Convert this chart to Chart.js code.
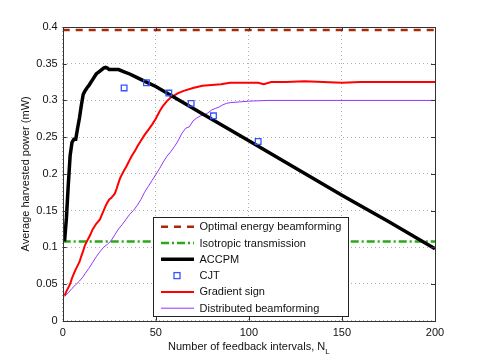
<!DOCTYPE html>
<html>
<head>
<meta charset="utf-8">
<script src="https://cdn.jsdelivr.net/npm/chart.js@4/dist/chart.umd.min.js"></script>
<style>
  body { margin: 0; background: #fff; }
  #wrap { position: relative; width: 480px; height: 361px; }
</style>
</head>
<body>
<div id="wrap"><canvas id="c" width="480" height="361"></canvas></div>
<script>
// values
const optimalLevel = 0.396;
const isotropicLevel = 0.108;

const accpmN = [1, 2, 3, 4, 5, 6, 7, 8, 9, 10, 11, 12, 13, 14, 15, 16, 18, 20, 22, 23, 24, 25, 27, 30, 33, 36, 40, 45, 50, 75, 100, 125, 150, 175, 200];
const accpmP = [0.108, 0.140, 0.185, 0.225, 0.243, 0.247, 0.247, 0.262, 0.276, 0.293, 0.308, 0.313, 0.317, 0.320, 0.324, 0.328, 0.336, 0.340, 0.344, 0.345, 0.344, 0.342, 0.342, 0.342, 0.339, 0.336, 0.331, 0.325, 0.319, 0.282, 0.245, 0.208, 0.171, 0.135, 0.098];

const cjtN = [33, 45, 57, 69, 81, 105];
const cjtP = [0.317, 0.324, 0.310, 0.296, 0.279, 0.244];

const gradN = [1, 2, 3, 4, 5, 6, 7, 8, 9, 10, 11, 12, 13, 14, 15, 16, 17, 18, 19, 20, 21, 22, 23, 24, 25, 26, 27, 28, 29, 30, 31, 32, 33, 34, 35, 36, 37, 38, 39, 40, 42, 44, 46, 48, 50, 52, 54, 56, 58, 60, 62, 65, 70, 75, 80, 85, 90, 100, 105, 108, 112, 120, 130, 140, 150, 160, 170, 180, 200];
const gradP = [0.034, 0.040, 0.045, 0.050, 0.058, 0.064, 0.070, 0.075, 0.080, 0.088, 0.095, 0.103, 0.108, 0.113, 0.118, 0.124, 0.128, 0.132, 0.135, 0.138, 0.144, 0.150, 0.156, 0.161, 0.165, 0.167, 0.170, 0.173, 0.180, 0.188, 0.195, 0.200, 0.205, 0.209, 0.214, 0.219, 0.224, 0.228, 0.232, 0.237, 0.245, 0.253, 0.260, 0.267, 0.275, 0.285, 0.293, 0.299, 0.304, 0.307, 0.310, 0.313, 0.317, 0.320, 0.321, 0.322, 0.324, 0.324, 0.324, 0.322, 0.325, 0.325, 0.326, 0.325, 0.324, 0.325, 0.325, 0.325, 0.325];

const distN = [1, 3, 5, 7, 9, 11, 12, 14, 16, 18, 20, 22, 24, 26, 28, 30, 32, 34, 36, 38, 40, 42, 44, 46, 48, 50, 52, 54, 56, 58, 60, 62, 64, 66, 68, 70, 72, 74, 76, 78, 80, 82, 84, 86, 88, 90, 95, 100, 110, 200];
const distP = [0.033, 0.038, 0.044, 0.049, 0.054, 0.060, 0.064, 0.071, 0.079, 0.087, 0.094, 0.100, 0.104, 0.109, 0.117, 0.125, 0.131, 0.138, 0.145, 0.150, 0.157, 0.165, 0.175, 0.183, 0.191, 0.199, 0.207, 0.216, 0.224, 0.230, 0.237, 0.245, 0.255, 0.262, 0.264, 0.272, 0.276, 0.279, 0.280, 0.283, 0.287, 0.289, 0.291, 0.294, 0.296, 0.297, 0.298, 0.299, 0.300, 0.300];

const xTicks = [0, 50, 100, 150, 200];
const yTicks = [0, 0.05, 0.1, 0.15, 0.2, 0.25, 0.3, 0.35, 0.4];

const FONT = '"Liberation Sans", Arial, sans-serif';

function pts(xs, ys) {
  return xs.map((x, i) => ({ x: x, y: ys[i] }));
}

const series = [
  { label: 'Optimal energy beamforming', data: pts([0, 200], [optimalLevel, optimalLevel]),
    borderColor: '#a8280a', borderWidth: 2.5, borderDash: [7, 6], showLine: true, pointRadius: 0 },
  { label: 'Isotropic transmission', data: pts([0, 200], [isotropicLevel, isotropicLevel]),
    borderColor: '#2aa818', borderWidth: 2.5, borderDash: [8, 3, 2, 3], showLine: true, pointRadius: 0 },
  { label: 'ACCPM', data: pts(accpmN, accpmP),
    borderColor: '#000', borderWidth: 3.5, showLine: true, pointRadius: 0 },
  { label: 'CJT', data: pts(cjtN, cjtP),
    borderColor: '#3355ff', backgroundColor: 'rgba(0,0,0,0)', borderWidth: 1.3,
    showLine: false, pointStyle: 'rect', pointRadius: 4 },
  { label: 'Gradient sign', data: pts(gradN, gradP),
    borderColor: '#ff0000', borderWidth: 2, showLine: true, pointRadius: 0 },
  { label: 'Distributed beamforming', data: pts(distN, distP),
    borderColor: '#9933ff', borderWidth: 1, showLine: true, pointRadius: 0 }
];
// draw order: keep ACCPM and CJT on top
series.forEach((s, i) => { s.order = [5, 4, 2, 1, 3, 3][i]; s.fill = false; s.tension = 0; });

// frame, inward ticks, legend and axis titles (MATLAB look)
const decor = {
  id: 'decor',
  afterDatasetsDraw(chart) {
    const ctx = chart.ctx;
    const a = chart.chartArea;
    const xs = chart.scales.x, ys = chart.scales.y;
    ctx.save();
    ctx.strokeStyle = '#333';
    ctx.lineWidth = 1;
    ctx.setLineDash([]);
    ctx.strokeRect(Math.round(a.left) + 0.5, Math.round(a.top) + 0.5,
      Math.round(a.right - a.left), Math.round(a.bottom - a.top));
    ctx.beginPath();
    xTicks.forEach(v => {
      const px = Math.round(xs.getPixelForValue(v)) + 0.5;
      ctx.moveTo(px, a.bottom); ctx.lineTo(px, a.bottom - 4);
      ctx.moveTo(px, a.top); ctx.lineTo(px, a.top + 4);
    });
    yTicks.forEach(v => {
      const py = Math.round(ys.getPixelForValue(v)) + 0.5;
      ctx.moveTo(a.left, py); ctx.lineTo(a.left + 4, py);
      ctx.moveTo(a.right, py); ctx.lineTo(a.right - 4, py);
    });
    ctx.stroke();

    // legend box
    const bx = 153.5, by = 217.5, bw = 195, bh = 99;
    ctx.fillStyle = '#fff';
    ctx.fillRect(bx, by, bw, bh);
    ctx.strokeStyle = '#222';
    ctx.strokeRect(bx, by, bw, bh);
    ctx.font = '11px ' + FONT;
    ctx.textBaseline = 'middle';
    ctx.textAlign = 'left';
    series.forEach((s, i) => {
      const y = 226.7 + i * 16.3;
      ctx.strokeStyle = s.borderColor;
      ctx.lineWidth = s.borderWidth;
      if (s.showLine) {
        ctx.setLineDash(s.borderDash || []);
        ctx.beginPath();
        ctx.moveTo(161, y); ctx.lineTo(194, y);
        ctx.stroke();
      } else {
        ctx.setLineDash([]);
        ctx.strokeRect(174, y - 3, 6, 6);
      }
      ctx.setLineDash([]);
      ctx.fillStyle = '#111';
      ctx.fillText(s.label, 199.5, y + 0.5);
    });

    // x title with subscript
    ctx.fillStyle = '#111';
    ctx.font = '11px ' + FONT;
    const main = 'Number of feedback intervals, N';
    const w = ctx.measureText(main).width;
    ctx.font = '8px ' + FONT;
    const ws = ctx.measureText('L').width;
    const x0 = (a.left + a.right) / 2 - (w + ws) / 2;
    ctx.font = '11px ' + FONT;
    ctx.fillText(main, x0, 346.5);
    ctx.font = '8px ' + FONT;
    ctx.fillText('L', x0 + w, 352);

    // y title
    ctx.font = '11px ' + FONT;
    ctx.translate(26, (a.top + a.bottom) / 2);
    ctx.rotate(-Math.PI / 2);
    ctx.textAlign = 'center';
    ctx.fillText('Average harvested power (mW)', 0, 0);
    ctx.restore();
  }
};

new Chart(document.getElementById('c'), {
  type: 'scatter',
  data: { datasets: series },
  options: {
    responsive: false,
    animation: false,
    layout: { padding: { left: 0, right: 45, top: 27, bottom: 0 } },
    plugins: { legend: { display: false }, tooltip: { enabled: false } },
    scales: {
      x: {
        type: 'linear', min: 0, max: 200,
        afterBuildTicks: s => { s.ticks = xTicks.map(v => ({ value: v })); },
        afterFit: s => { s.height = 40.3; },
        border: { display: false, dash: [1, 3] },
        grid: { color: '#b0b0b0', drawTicks: false, lineWidth: 1 },
        ticks: { padding: 6, color: '#111', font: { family: FONT, size: 11 } }
      },
      y: {
        type: 'linear', min: 0, max: 0.4,
        afterBuildTicks: s => { s.ticks = yTicks.map(v => ({ value: v })); },
        afterFit: s => { s.width = 62.7; },
        border: { display: false, dash: [1, 3] },
        grid: { color: '#b0b0b0', drawTicks: false, lineWidth: 1 },
        ticks: { padding: 5, color: '#111', font: { family: FONT, size: 11 },
          callback: v => String(+v.toFixed(2)) }
      }
    }
  },
  plugins: [decor]
});
</script>
</body>
</html>
